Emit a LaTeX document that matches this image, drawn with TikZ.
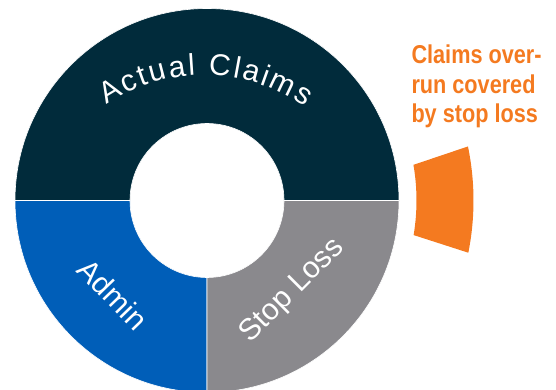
\documentclass[tikz,border=0pt]{standalone}
\usepackage{fontspec}
\setmainfont{Liberation Sans}
\newfontfamily\calloutfont[FakeStretch=0.84]{Liberation Sans}
\usetikzlibrary{decorations.text}
\definecolor{claimsnavy}{HTML}{012B3B}
\definecolor{adminblue}{HTML}{005EB8}
\definecolor{stopgray}{HTML}{8A898D}
\definecolor{overrunorange}{HTML}{F47A20}
\tikzset{segment/.style={draw=white, line width=0.6pt},
  ringlabel/.style={text=white, font=\fontsize{30}{30}\selectfont, inner sep=0}}
\begin{document}
\begin{tikzpicture}[x=1pt,y=1pt]
\useasboundingbox (-207,-189.5) rectangle (349,200.5);
% ring
\draw[segment, fill=claimsnavy] (192,0) arc[start angle=0, end angle=180, radius=192] -- (-77,0) arc[start angle=180, end angle=0, radius=77] -- cycle;
\draw[segment, fill=adminblue] (-192,0) arc[start angle=180, end angle=270, radius=192] -- (0,-77) arc[start angle=270, end angle=180, radius=77] -- cycle;
\draw[segment, fill=stopgray] (0,-192) arc[start angle=270, end angle=360, radius=192] -- (77,0) arc[start angle=0, end angle=-90, radius=77] -- cycle;
% overrun slice
\fill[overrunorange] (9.8:209.5) -- (11.7:266.5) arc[start angle=11.7, end angle=-11.3, radius=266.5] -- (-9.5:209.5) arc[start angle=-9.5, end angle=9.8, radius=209.5] -- cycle;
% labels
\coordinate (arcc) at (-3,-48.5);
\path[decorate, decoration={text along path, text align={fit to path},
  text={|\fontsize{30}{30}\selectfont\color{white}|Actual Claims}}]
  ([shift={(124:174)}]arcc) arc[start angle=124, end angle=54.6, radius=174];
\node[ringlabel, rotate=-46] (admin) at (225:132.6) {Admin};
\node[ringlabel, rotate=45] (stoploss) at (-46.6:124.4) {Stop Loss};
\node[overrunorange, font=\calloutfont\bfseries\fontsize{25.8}{29.85}\selectfont, align=left, anchor=north west, inner sep=0] (callout) at (204.3,156.2) {Claims over-\\run covered\\by stop loss};
\end{tikzpicture}
\end{document}
